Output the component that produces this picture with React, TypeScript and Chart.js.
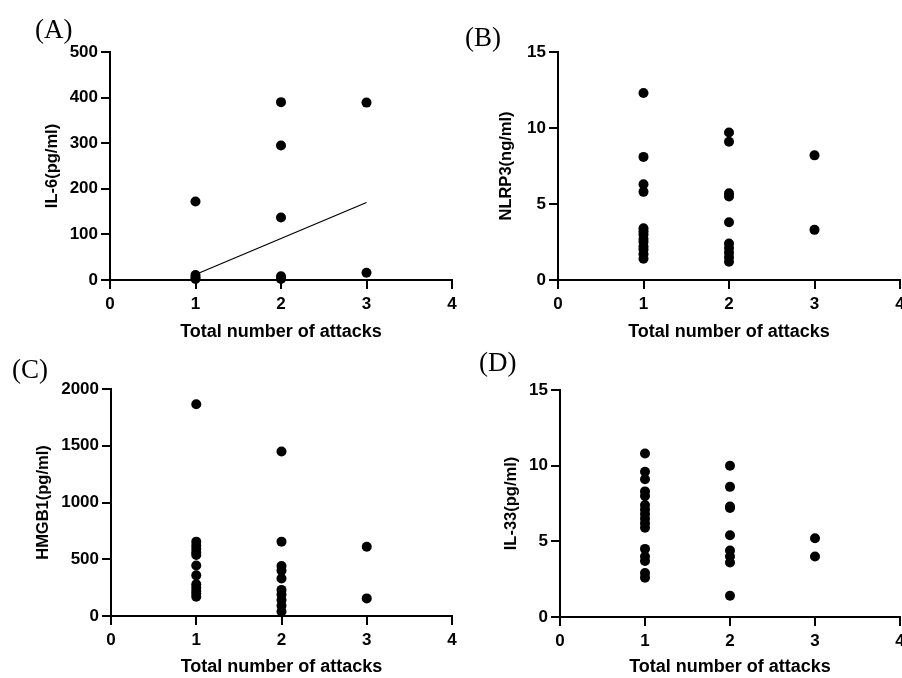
import React, { useEffect, useRef } from "react";
import { Chart, registerables } from "chart.js";

Chart.register(...registerables);

// ---------- data ----------
const attackCounts = [1, 2, 3];
const xTickValues = [0, 1, 2, 3, 4];
const xAxisTitle = "Total number of attacks";

const il6Group1 = [172, 11, 6, 2];
const il6Group2 = [390, 295, 137, 8, 2];
const il6Group3 = [389, 16];
const il6FitX = [1, 3];
const il6FitY = [12, 170];
const il6Ticks = [0, 100, 200, 300, 400, 500];

const nlrp3Group1 = [12.3, 8.1, 6.3, 5.8, 3.4, 3.2, 3.0, 2.7, 2.5, 2.2, 2.0, 1.7, 1.4];
const nlrp3Group2 = [9.7, 9.1, 5.7, 5.5, 3.8, 2.4, 2.1, 1.8, 1.5, 1.2];
const nlrp3Group3 = [8.2, 3.3];
const nlrp3Ticks = [0, 5, 10, 15];

const hmgb1Group1 = [1865, 655, 620, 590, 560, 537, 445, 358, 280, 250, 220, 195, 170];
const hmgb1Group2 = [1450, 655, 440, 400, 330, 230, 190, 140, 90, 40];
const hmgb1Group3 = [610, 155];
const hmgb1Ticks = [0, 500, 1000, 1500, 2000];

const il33Group1 = [10.8, 9.6, 9.1, 8.3, 8.0, 7.4, 7.1, 6.8, 6.5, 6.2, 5.9, 4.5, 4.0, 3.7, 2.9, 2.6];
const il33Group2 = [10.0, 8.6, 7.3, 7.2, 5.4, 4.4, 4.0, 3.6, 1.4];
const il33Group3 = [5.2, 4.0];
const il33Ticks = [0, 5, 10, 15];

// ---------- panel component ----------
type Box = { x: number; y: number; w: number; h: number };
type Area = { left: number; top: number; right: number; bottom: number };

interface PanelProps {
  box: Box;
  area: Area;
  groups: number[][];
  yTicks: number[];
  yTitle: string;
  yTitleCenterX: number;
  xTitleCenterY: number;
  fit?: { xs: number[]; ys: number[] };
}

const SANS = "'Liberation Sans', Arial, Helvetica, sans-serif";

function Panel(props: PanelProps) {
  const ref = useRef<HTMLCanvasElement | null>(null);
  useEffect(() => {
    const { box, area, groups, yTicks, yTitle, yTitleCenterX, xTitleCenterY, fit } = props;
    const L = area.left - box.x;
    const T = area.top - box.y;
    const R = area.right - box.x;
    const B = area.bottom - box.y;
    const yTitleSize = 16.5;
    const xTitleSize = 18;

    const points: { x: number; y: number }[] = [];
    groups.forEach((g, i) => g.forEach((v) => points.push({ x: attackCounts[i], y: v })));

    const datasets: any[] = [
      {
        type: "scatter",
        data: points,
        backgroundColor: "#000",
        borderWidth: 0,
        pointRadius: 5,
        pointHoverRadius: 5,
        clip: false,
      },
    ];
    if (fit) {
      datasets.push({
        type: "line",
        data: fit.xs.map((x, i) => ({ x, y: fit.ys[i] })),
        borderColor: "#000",
        borderWidth: 1.2,
        pointRadius: 0,
        fill: false,
        clip: false,
      });
    }

    const chart = new Chart(ref.current as HTMLCanvasElement, {
      type: "scatter",
      data: { datasets },
      options: {
        responsive: false,
        animation: false,
        devicePixelRatio: 1,
        layout: { padding: { left: 0, top: T, right: box.w - R, bottom: 0 } },
        plugins: { legend: { display: false }, tooltip: { enabled: false } },
        scales: {
          x: {
            type: "linear",
            min: xTickValues[0],
            max: xTickValues[xTickValues.length - 1],
            afterBuildTicks: (s: any) => {
              s.ticks = xTickValues.map((v) => ({ value: v }));
            },
            ticks: {
              color: "#000",
              font: { family: SANS, size: 17, weight: "bold" },
              padding: 5,
              maxRotation: 0,
              autoSkip: false,
              callback: (v: any) => String(v),
            },
            grid: {
              drawOnChartArea: false,
              drawTicks: true,
              tickLength: 9,
              color: "#000",
              lineWidth: 2,
            },
            border: { display: true, color: "#000", width: 2 },
            title: {
              display: true,
              text: xAxisTitle,
              color: "#000",
              font: { family: SANS, size: xTitleSize, weight: "bold" },
              padding: { top: 0, bottom: box.h - xTitleCenterY - (xTitleSize * 1.2) / 2 },
            },
            afterFit: (s: any) => {
              s.height = box.h - B;
              s.paddingLeft = 0;
              s.paddingRight = 0;
            },
          },
          y: {
            type: "linear",
            min: yTicks[0],
            max: yTicks[yTicks.length - 1],
            afterBuildTicks: (s: any) => {
              s.ticks = yTicks.map((v) => ({ value: v }));
            },
            ticks: {
              color: "#000",
              font: { family: SANS, size: 17, weight: "bold" },
              padding: 3,
              autoSkip: false,
              callback: (v: any) => String(v),
            },
            grid: {
              drawOnChartArea: false,
              drawTicks: true,
              tickLength: 9,
              color: "#000",
              lineWidth: 2,
            },
            border: { display: true, color: "#000", width: 2 },
            title: {
              display: true,
              text: yTitle,
              color: "#000",
              font: { family: SANS, size: yTitleSize, weight: "bold" },
              padding: { top: yTitleCenterX - (yTitleSize * 1.2) / 2, bottom: 0 },
            },
            afterFit: (s: any) => {
              s.width = L;
              s.paddingTop = 0;
              s.paddingBottom = 0;
            },
          },
        },
      } as any,
    });
    return () => chart.destroy();
  }, []);

  const { box } = props;
  return (
    <canvas
      ref={ref}
      width={box.w}
      height={box.h}
      style={{ position: "absolute", left: box.x, top: box.y, width: box.w, height: box.h }}
    />
  );
}

function PanelLabel({ text, left, centerY }: { text: string; left: number; centerY: number }) {
  return (
    <div
      style={{
        position: "absolute",
        left,
        top: centerY - 15,
        fontFamily: "'Liberation Serif', 'Times New Roman', serif",
        fontSize: 27,
        lineHeight: "30px",
        color: "#000",
        whiteSpace: "nowrap",
      }}
    >
      {text}
    </div>
  );
}

export default function App() {
  return (
    <div
      style={{
        position: "absolute",
        left: 0,
        top: 0,
        width: 902,
        height: 678,
        overflow: "hidden",
        background: "#fff",
      }}
    >
      <Panel
        box={{ x: 0, y: 0, w: 460, h: 345 }}
        area={{ left: 110, top: 52, right: 452, bottom: 280 }}
        groups={[il6Group1, il6Group2, il6Group3]}
        yTicks={il6Ticks}
        yTitle="IL-6(pg/ml)"
        yTitleCenterX={52}
        xTitleCenterY={332}
        fit={{ xs: il6FitX, ys: il6FitY }}
      />
      <Panel
        box={{ x: 450, y: 0, w: 460, h: 345 }}
        area={{ left: 558, top: 52, right: 900, bottom: 280 }}
        groups={[nlrp3Group1, nlrp3Group2, nlrp3Group3]}
        yTicks={nlrp3Ticks}
        yTitle="NLRP3(ng/ml)"
        yTitleCenterX={56}
        xTitleCenterY={332}
      />
      <Panel
        box={{ x: 0, y: 339, w: 460, h: 339 }}
        area={{ left: 111, top: 389, right: 452, bottom: 616 }}
        groups={[hmgb1Group1, hmgb1Group2, hmgb1Group3]}
        yTicks={hmgb1Ticks}
        yTitle="HMGB1(pg/ml)"
        yTitleCenterX={43}
        xTitleCenterY={328}
      />
      <Panel
        box={{ x: 450, y: 339, w: 460, h: 339 }}
        area={{ left: 560, top: 390, right: 900, bottom: 617 }}
        groups={[il33Group1, il33Group2, il33Group3]}
        yTicks={il33Ticks}
        yTitle="IL-33(pg/ml)"
        yTitleCenterX={61}
        xTitleCenterY={328}
      />
      <PanelLabel text="(A)" left={35} centerY={29} />
      <PanelLabel text="(B)" left={465} centerY={37} />
      <PanelLabel text="(C)" left={12} centerY={369} />
      <PanelLabel text="(D)" left={479} centerY={362} />
    </div>
  );
}
